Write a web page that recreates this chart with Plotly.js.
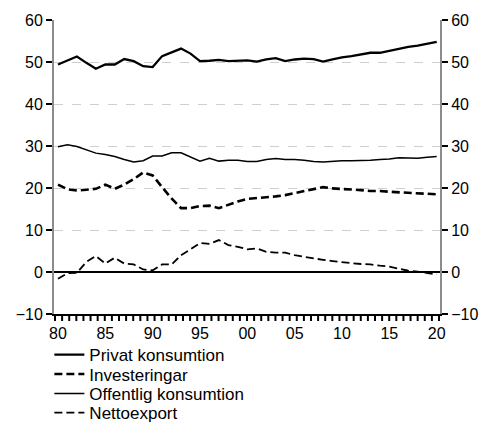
<!DOCTYPE html>
<html>
<head>
<meta charset="utf-8">
<script src="https://cdn.plot.ly/plotly-3.0.1.min.js"></script>
<style>
html,body{margin:0;padding:0;background:#fff;}
#chart{width:489px;height:423px;}
</style>
</head>
<body>
<div id="chart"></div>
<script>
var years = [1980,1981,1982,1983,1984,1985,1986,1987,1988,1989,1990,1991,1992,1993,1994,1995,1996,1997,1998,1999,2000,2001,2002,2003,2004,2005,2006,2007,2008,2009,2010,2011,2012,2013,2014,2015,2016,2017,2018,2019,2020];

var privatKonsumtion = [49.4,50.3,51.3,49.8,48.4,49.4,49.4,50.7,50.2,49.0,48.8,51.4,52.3,53.2,52.0,50.2,50.3,50.5,50.2,50.3,50.4,50.1,50.6,50.9,50.2,50.6,50.8,50.7,50.1,50.6,51.1,51.4,51.8,52.2,52.2,52.7,53.2,53.6,53.9,54.3,54.8];

var investeringar = [20.8,19.7,19.4,19.6,19.8,20.8,19.8,20.8,22.1,23.7,23.0,20.2,17.5,15.2,15.2,15.7,15.8,15.2,16.0,16.8,17.4,17.6,17.7,18.0,18.3,18.8,19.3,19.8,20.2,19.9,19.8,19.6,19.5,19.3,19.3,19.1,19.0,18.9,18.8,18.6,18.5];

var offentligKonsumtion = [29.8,30.3,29.9,29.1,28.3,28.0,27.5,26.8,26.2,26.5,27.6,27.6,28.4,28.4,27.4,26.4,27.1,26.4,26.6,26.6,26.3,26.3,26.8,27.0,26.8,26.8,26.6,26.3,26.2,26.4,26.5,26.5,26.5,26.6,26.8,26.9,27.2,27.2,27.1,27.3,27.5];

var nettoexport = [-1.6,-0.3,-0.2,2.4,3.8,2.0,3.4,2.0,1.8,0.6,0.4,1.8,1.8,4.0,5.4,6.9,6.7,7.6,6.4,6.0,5.4,5.6,4.8,4.6,4.6,4.0,3.6,3.2,2.9,2.6,2.3,2.1,1.9,1.8,1.5,1.3,0.8,0.3,0.1,-0.3,-0.6];

var seriesNames = ["Privat konsumtion","Investeringar","Offentlig konsumtion","Nettoexport"];

var tickYears = [1980,1985,1990,1995,2000,2005,2010,2015,2020];
var tickLabels = ["80","85","90","95","00","05","10","15","20"];

var font = "Liberation Sans, Arial, sans-serif";
var xRange = [1979.58, 2020.35];
var plotHeightPx = 294;
var plotWidthPx = 386;

// evenly spaced tick marks along the bottom axis (styling only)
var nTickMarks = 54;
var tickShapes = [];
for (var i = 0; i <= nTickMarks; i++) {
  var px = (1 + i * (plotWidthPx - 2) / nTickMarks) / plotWidthPx;
  tickShapes.push({type: "line", xref: "paper", yref: "paper", x0: px, x1: px,
                   y0: -1 / plotHeightPx, y1: -7 / plotHeightPx, layer: "above",
                   line: {color: "#000", width: 2}});
}

var traces = [
  {x: years, y: privatKonsumtion, name: seriesNames[0], type: "scatter", mode: "lines",
   line: {color: "#000", width: 2.3}, legend: "legend"},
  {x: years, y: investeringar, name: seriesNames[1], type: "scatter", mode: "lines",
   line: {color: "#000", width: 2.6, dash: "8px,4px"}, legend: "legend2"},
  {x: years, y: offentligKonsumtion, name: seriesNames[2], type: "scatter", mode: "lines",
   line: {color: "#000", width: 1.5}, legend: "legend3", yaxis: "y2"},
  {x: years, y: nettoexport, name: seriesNames[3], type: "scatter", mode: "lines",
   line: {color: "#000", width: 1.8, dash: "8px,4px"}, legend: "legend4"}
];

function leg(y) {
  return {x: -0.012, y: y, xanchor: "left", yanchor: "middle",
          bgcolor: "rgba(0,0,0,0)", borderwidth: 0,
          font: {family: font, size: 17, color: "#000"}};
}

var yCommon = {
  range: [-10, 60], tickmode: "linear", tick0: 0, dtick: 10,
  ticks: "outside", ticklen: 6, tickwidth: 1.5, tickcolor: "#000",
  showline: true, linecolor: "#8c8c8c", linewidth: 2,
  tickfont: {family: font, size: 16, color: "#000"},
  fixedrange: true
};

var layout = {
  width: 489, height: 423,
  margin: {l: 54, r: 49, t: 20, b: 109, pad: 0, autoexpand: false},
  paper_bgcolor: "#fff", plot_bgcolor: "#fff",
  font: {family: font, size: 16, color: "#000"},
  showlegend: true,
  xaxis: {
    type: "linear", range: xRange,
    tickmode: "array", tickvals: tickYears, ticktext: tickLabels,
    ticks: "outside", ticklen: 4, tickwidth: 1.5, tickcolor: "rgba(0,0,0,0)",
    showgrid: false, zeroline: false,
    showline: true, linecolor: "#000", linewidth: 2,
    tickfont: {family: font, size: 16, color: "#000"},
    fixedrange: true
  },
  yaxis: Object.assign({}, yCommon, {
    side: "left", showgrid: true, gridcolor: "#cfcfcf", gridwidth: 1, griddash: "dash",
    zeroline: true, zerolinecolor: "#000", zerolinewidth: 2
  }),
  yaxis2: Object.assign({}, yCommon, {
    side: "right", overlaying: "y", showgrid: false, zeroline: false
  }),
  shapes: tickShapes,
  legend: leg((314 - 355) / 294),
  legend2: leg((314 - 374.5) / 294),
  legend3: leg((314 - 394) / 294),
  legend4: leg((314 - 413) / 294)
};

Plotly.newPlot("chart", traces, layout, {displayModeBar: false, staticPlot: true});
</script>
</body>
</html>
